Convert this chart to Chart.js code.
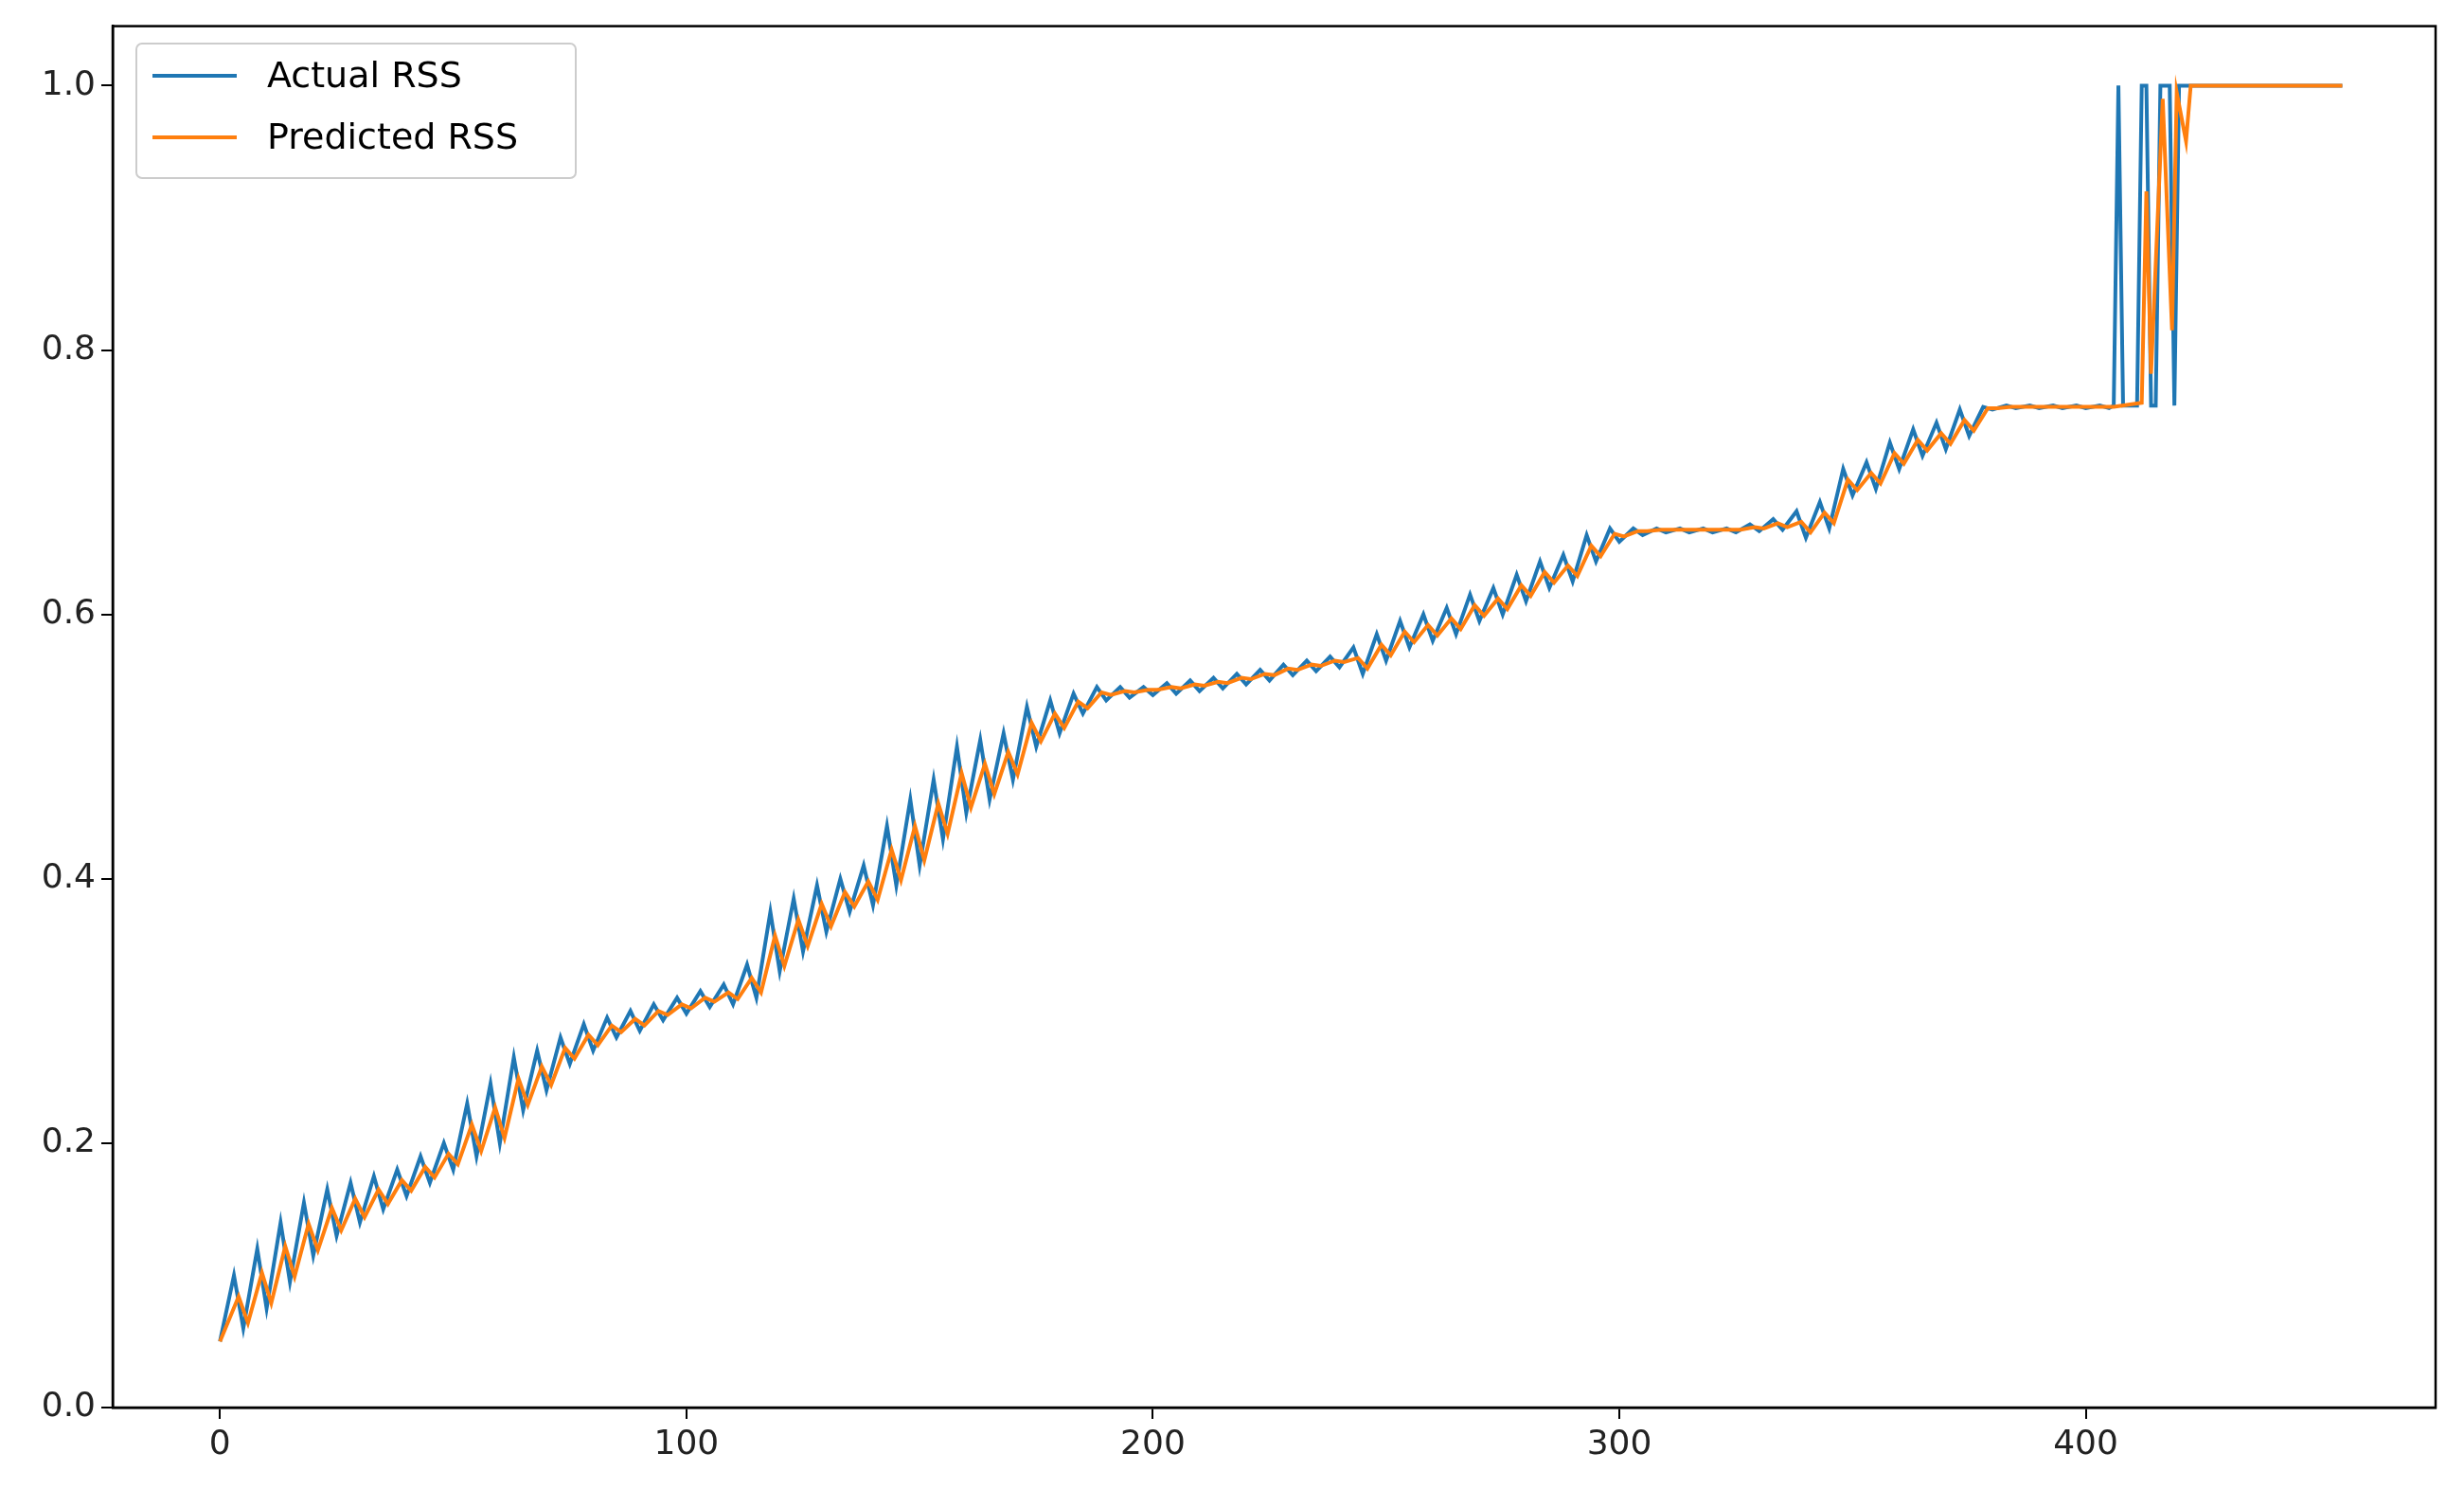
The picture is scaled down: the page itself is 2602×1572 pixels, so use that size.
<!DOCTYPE html>
<html>
<head>
<meta charset="utf-8">
<script src="https://cdn.jsdelivr.net/npm/chart.js@4.4.0/dist/chart.umd.min.js"></script>
<style>
  html, body { margin: 0; padding: 0; background: #fff; }
  canvas { display: block; }
</style>
</head>
<body>
<canvas id="rssChart" width="2602" height="1572"></canvas>
<script>
// sawtooth cycles: actual peak at 5k+3, trough at 5k+5; predicted one step later
const actualPeaks = [.10,.12,.14,.155,.165,.17,.175,.18,.19,.20,.23,.245,.265,.27,.28,.29,.295,.30,.305,.31,.315,.32,.335,.375,.385,.395,.40,.41,.44,.46,.475,.50,.505,.51,.53,.535,.54,.545,.545,.545,.548,.55,.552,.555,.558,.562,.565,.568,.575,.585,.595,.60,.605,.615,.62,.63,.64,.645,.66,.665,.665,.665,.665,.665,.665,.668,.672,.678,.685,.71,.715,.73,.74,.745,.755,.757,.758,.758,.758,.758,.758];
const actualTroughs = [.06,.075,.095,.115,.13,.14,.15,.16,.17,.18,.19,.20,.225,.24,.26,.27,.28,.285,.293,.298,.303,.305,.31,.33,.345,.36,.375,.38,.395,.41,.43,.45,.46,.475,.50,.51,.525,.535,.537,.539,.54,.542,.544,.547,.55,.554,.557,.56,.555,.565,.575,.58,.585,.595,.60,.61,.62,.625,.64,.655,.66,.662,.662,.662,.662,.663,.664,.658,.665,.69,.695,.71,.72,.725,.735,.755,.756,.756,.756,.756,.756];
const predPeaks = [.084,.102,.122,.139,.151,.158,.165,.172,.182,.192,.214,.227,.249,.258,.272,.282,.289,.294,.300,.305,.310,.314,.325,.357,.369,.381,.390,.398,.422,.44,.457,.48,.487,.496,.518,.525,.534,.541,.542,.543,.545,.547,.549,.552,.555,.559,.562,.565,.567,.577,.587,.592,.597,.607,.612,.622,.632,.637,.652,.661,.663,.664,.664,.664,.664,.666,.669,.670,.677,.702,.707,.722,.732,.737,.747,.756,.757,.757,.757,.757,.757];
const predTroughs = [.064,.079,.099,.119,.134,.144,.154,.164,.174,.184,.194,.204,.229,.244,.264,.274,.284,.289,.297,.302,.307,.309,.314,.334,.349,.364,.379,.384,.399,.414,.434,.454,.464,.479,.504,.514,.529,.539,.541,.543,.544,.546,.548,.551,.554,.558,.561,.564,.559,.569,.579,.584,.589,.599,.604,.614,.624,.629,.644,.659,.663,.664,.664,.664,.664,.665,.666,.662,.669,.694,.699,.714,.724,.729,.739,.756,.757,.757,.757,.757,.757];

// end of the series where the values jump to 1.0
const actualTailX = [406,407,408,411,412,413,414,415,416,417,418,419,420,455];
const actualTailY = [.758,1,.758,.758,1,1,.758,.758,1,1,1,.758,1,1];
const predTailX = [412,413,414,416.5,418.5,419.5,421.5,422.5,455];
const predTailY = [.76,.92,.782,.99,.815,.995,.958,1,1];

const startValue = 0.05;
const xTicks = [0,100,200,300,400];
const yTicks = [0,0.2,0.4,0.6,0.8,1.0];

function buildSeries(peaks, troughs, shift, tailX, tailY) {
    const pts = [{x: 0, y: startValue}];
    for (let k = 0; k < peaks.length; k++) {
        pts.push({x: 5 * k + 3 + shift, y: peaks[k]});
        if (k < troughs.length) pts.push({x: 5 * k + 5 + shift, y: troughs[k]});
    }
    tailX.forEach((x, i) => pts.push({x: x, y: tailY[i]}));
    return pts;
}

const frame = {
    id: "frame",
    afterDraw(chart) {
        const {ctx, chartArea: a} = chart;
        ctx.save();
        ctx.strokeStyle = "#000";
        ctx.lineWidth = 2.5;
        ctx.strokeRect(a.left, a.top, a.right - a.left, a.bottom - a.top);
        // legend box
        const bx = 144, by = 46, bw = 464, bh = 142;
        ctx.fillStyle = "rgba(255,255,255,0.85)";
        ctx.strokeStyle = "#cccccc";
        ctx.lineWidth = 2;
        ctx.beginPath();
        ctx.roundRect(bx, by, bw, bh, 6);
        ctx.fill();
        ctx.stroke();
        const rows = [["Actual RSS", "#1f77b4", 80], ["Predicted RSS", "#ff7f0e", 145]];
        ctx.font = "38px 'DejaVu Sans'";
        ctx.textBaseline = "middle";
        rows.forEach(([label, color, y]) => {
            ctx.strokeStyle = color;
            ctx.lineWidth = 4;
            ctx.beginPath();
            ctx.moveTo(161, y);
            ctx.lineTo(250, y);
            ctx.stroke();
            ctx.fillStyle = "#000";
            ctx.fillText(label, 282, y + 2);
        });
        ctx.restore();
    }
};

const ctx = document.getElementById("rssChart").getContext("2d");
new Chart(ctx, {
    type: "line",
    data: {
        datasets: [
            {
                label: "Actual RSS",
                data: buildSeries(actualPeaks, actualTroughs, 0, actualTailX, actualTailY),
                borderColor: "#1f77b4",
                borderWidth: 4,
                pointRadius: 0,
                tension: 0,
                order: 2
            },
            {
                label: "Predicted RSS",
                data: buildSeries(predPeaks, predTroughs, 1, predTailX, predTailY),
                borderColor: "#ff7f0e",
                borderWidth: 4,
                pointRadius: 0,
                tension: 0,
                order: 1
            }
        ]
    },
    options: {
        responsive: false,
        animation: false,
        devicePixelRatio: 1,
        layout: { padding: { left: 0, top: 25, right: 30, bottom: 0 } },
        plugins: { legend: { display: false }, tooltip: { enabled: false } },
        scales: {
            x: {
                type: "linear",
                min: -23,
                max: 475,
                afterBuildTicks: (s) => { s.ticks = xTicks.map(v => ({value: v})); },
                afterFit: (s) => { s.height = 86; },
                grid: { drawOnChartArea: false, drawTicks: true, tickLength: 12, color: "#000", lineWidth: 2 },
                border: { color: "#000", width: 2.5 },
                ticks: { color: "#222", font: { family: "DejaVu Sans", size: 36 }, padding: 6, maxRotation: 0 }
            },
            y: {
                min: 0,
                max: 1.045,
                afterBuildTicks: (s) => { s.ticks = yTicks.map(v => ({value: v})); },
                afterFit: (s) => { s.width = 119; },
                grid: { drawOnChartArea: false, drawTicks: true, tickLength: 12, color: "#000", lineWidth: 2 },
                border: { color: "#000", width: 2.5 },
                ticks: { color: "#222", font: { family: "DejaVu Sans", size: 36 }, padding: 6,
                         callback: (v) => v.toFixed(1) }
            }
        }
    },
    plugins: [frame]
});
</script>
</body>
</html>
